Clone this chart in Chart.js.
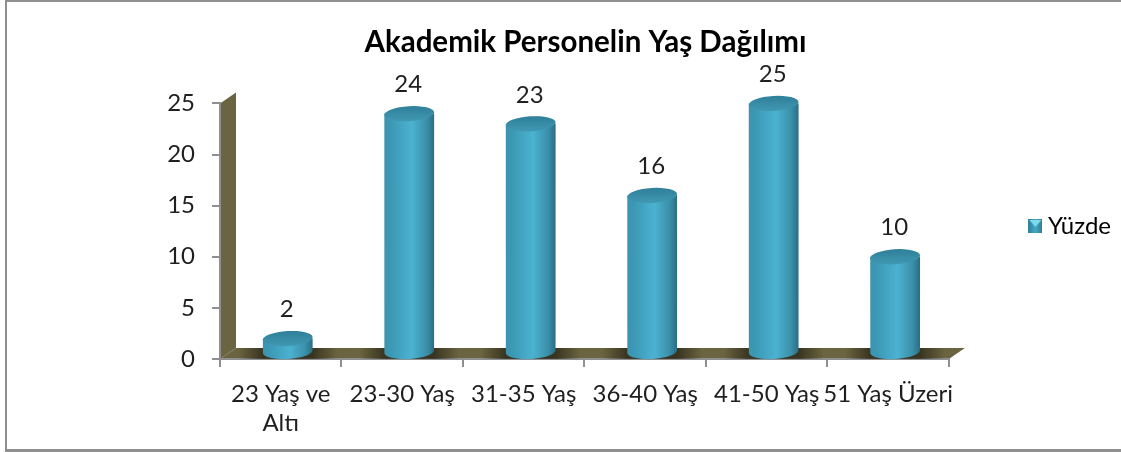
<!DOCTYPE html>
<html>
<head>
<meta charset="utf-8">
<script src="https://cdn.jsdelivr.net/npm/chart.js@4"></script>
<style>
  html, body { margin: 0; padding: 0; background: #fff; overflow: hidden; }
  #wrap { width: 1121px; height: 452px; }
</style>
</head>
<body>
<div id="wrap"><canvas id="myChart" width="1121" height="452"></canvas></div>
<script>
/*========== DATA ==========*/
const categories = [['23 Yaş ve', 'Altı'], '23-30 Yaş', '31-35 Yaş', '36-40 Yaş', '41-50 Yaş', '51 Yaş Üzeri'];
const yuzde = [2, 24, 23, 16, 25, 10];
const seriesName = 'Yüzde';
const chartTitle = 'Akademik Personelin Yaş Dağılımı';

const FONT = 'Lato, Carlito, "Open Sans", sans-serif';
const TEXT = '#1f1f1f';
const DEPTH_X = 16;   // do sau gia 3D
const DEPTH_Y = 11;

/*========== O MAU CHU THICH ==========*/
function legendSwatch() {
  const c = document.createElement('canvas');
  c.width = 14; c.height = 14;
  const g = c.getContext('2d');
  const grad = g.createLinearGradient(0, 0, 14, 0);
  grad.addColorStop(0, '#2f7f99');
  grad.addColorStop(0.5, '#46a9c6');
  grad.addColorStop(1, '#2c7a93');
  g.fillStyle = grad;
  g.fillRect(0, 0, 14, 14);
  g.fillStyle = '#7fdcec';
  g.beginPath();
  g.moveTo(1, 1); g.lineTo(13, 1); g.lineTo(7, 8);
  g.closePath();
  g.fill();
  return c;
}

/*========== VIEN, TUONG VA SAN ==========*/
const backdrop = {
  id: 'backdrop',
  beforeLayout(chart) {
    // giu cho vung ve dung 947 o ben phai
    chart.legend.afterFit = function () { this.width = 172; };
  },
  beforeDraw(chart) {
    const { ctx, chartArea: a } = chart;
    ctx.save();
    ctx.fillStyle = '#8f8f8f';
    ctx.fillRect(5, 0, 1116, 2);
    ctx.fillRect(5, 0, 2, 452);
    ctx.fillRect(5, 449, 1116, 3);

    ctx.fillStyle = '#6a6440';
    ctx.beginPath();
    ctx.moveTo(a.left, a.top);
    ctx.lineTo(a.left + DEPTH_X, a.top - DEPTH_Y);
    ctx.lineTo(a.left + DEPTH_X, a.bottom - DEPTH_Y);
    ctx.lineTo(a.left, a.bottom);
    ctx.closePath();
    ctx.fill();

    ctx.beginPath();
    ctx.moveTo(a.left, a.bottom);
    ctx.lineTo(a.left + DEPTH_X, a.bottom - DEPTH_Y);
    ctx.lineTo(a.right + DEPTH_X, a.bottom - DEPTH_Y);
    ctx.lineTo(a.right, a.bottom);
    ctx.closePath();
    ctx.fill();
    ctx.restore();
  }
};

/*========== VE COT TRU VA NHAN ==========*/
const cylinders = {
  id: 'cylinders',
  afterDatasetsDraw(chart) {
    const { ctx, chartArea: a } = chart;
    const bars = chart.getDatasetMeta(0).data;
    const tilt = -0.06;

    // bong tren san
    ctx.save();
    ctx.beginPath();
    ctx.moveTo(a.left, a.bottom);
    ctx.lineTo(a.left + DEPTH_X, a.bottom - DEPTH_Y);
    ctx.lineTo(a.right + DEPTH_X, a.bottom - DEPTH_Y);
    ctx.lineTo(a.right, a.bottom);
    ctx.closePath();
    ctx.clip();
    bars.forEach((bar) => {
      const cx = bar.x + 7;
      const g = ctx.createLinearGradient(cx - bar.width, 0, cx + bar.width, 0);
      g.addColorStop(0, 'rgba(40,36,20,0)');
      g.addColorStop(0.25, 'rgba(40,36,20,0.75)');
      g.addColorStop(0.75, 'rgba(40,36,20,0.75)');
      g.addColorStop(1, 'rgba(40,36,20,0)');
      ctx.fillStyle = g;
      ctx.fillRect(cx - bar.width, a.bottom - DEPTH_Y, bar.width * 2, DEPTH_Y);
    });
    ctx.restore();

    bars.forEach((bar, i) => {
      const cx = bar.x + 7;
      const rx = bar.width / 2;
      const ry = 7.5;
      const topY = bar.y;
      const baseY = bar.base - 6.5;

      // than tru
      const body = ctx.createLinearGradient(cx - rx, 0, cx + rx, 0);
      body.addColorStop(0, '#3f93ad');
      body.addColorStop(0.12, '#3b98b4');
      body.addColorStop(0.55, '#4bb2d1');
      body.addColorStop(0.85, '#3a8fa9');
      body.addColorStop(1, '#2a6d84');
      ctx.fillStyle = body;
      ctx.beginPath();
      ctx.ellipse(cx, baseY, rx, ry, tilt, 0, Math.PI);
      ctx.lineTo(cx - rx, topY);
      ctx.lineTo(cx + rx, topY);
      ctx.closePath();
      ctx.fill();

      // mat tren
      const cap = ctx.createLinearGradient(0, topY - ry, 0, topY + ry);
      cap.addColorStop(0, '#2f7f99');
      cap.addColorStop(1, '#4098b2');
      ctx.fillStyle = cap;
      ctx.beginPath();
      ctx.ellipse(cx, topY, rx, ry, tilt, 0, Math.PI * 2);
      ctx.fill();

      // nhan gia tri
      ctx.fillStyle = TEXT;
      ctx.font = '24px ' + FONT;
      ctx.textAlign = 'center';
      ctx.textBaseline = 'middle';
      ctx.fillText(String(yuzde[i]), cx - 1, topY - 29);
    });
  }
};

/*========== TAO CHART ==========*/
const ctx = document.getElementById('myChart').getContext('2d');

const chart = new Chart(ctx, {
  type: 'bar',
  data: {
    labels: categories,
    datasets: [{
      label: seriesName,
      data: yuzde,
      backgroundColor: 'rgba(0,0,0,0)',
      barPercentage: 1,
      categoryPercentage: 0.41
    }]
  },
  plugins: [backdrop, cylinders],
  options: {
    animation: false,
    responsive: false,
    layout: { autoPadding: false, padding: { left: 50, right: 0, top: 0, bottom: 0 } },
    plugins: {
      tooltip: { enabled: false },
      title: {
        display: true,
        text: chartTitle,
        color: '#000',
        font: { family: FONT, size: 29.5, weight: 'bold' },
        padding: { top: 25, bottom: 43 }
      },
      legend: {
        position: 'right',
        labels: {
          padding: 86,
          usePointStyle: true,
          pointStyleWidth: 1,
          color: TEXT,
          font: { family: FONT, size: 24 },
          generateLabels: () => [{
            text: seriesName,
            pointStyle: legendSwatch(),
            fillStyle: '#3f9ab5',
            strokeStyle: '#3f9ab5',
            lineWidth: 0,
            datasetIndex: 0
          }]
        }
      }
    },
    scales: {
      x: {
        afterFit(scale) { scale.height = 93; },
        border: { color: '#8f8f8f', width: 2 },
        grid: { drawOnChartArea: false, color: '#8f8f8f', tickLength: 8, lineWidth: 2 },
        ticks: { color: TEXT, font: { family: FONT, size: 24 }, maxRotation: 0, autoSkip: false, padding: 13 }
      },
      y: {
        min: 0,
        max: 25,
        afterFit(scale) { scale.width = 170; },
        border: { color: '#8f8f8f', width: 2 },
        grid: { drawOnChartArea: false, color: '#8f8f8f', tickLength: 8, lineWidth: 2 },
        ticks: { stepSize: 5, color: TEXT, font: { family: FONT, size: 24 }, padding: 17 }
      }
    }
  }
});
</script>
</body>
</html>
